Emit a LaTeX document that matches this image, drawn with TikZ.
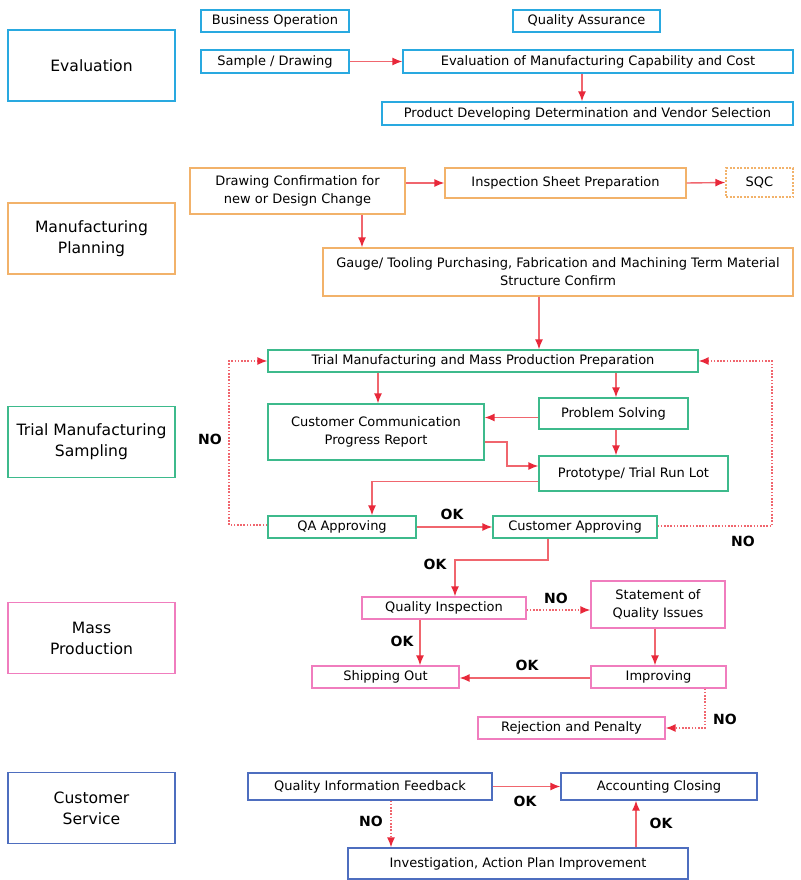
\documentclass[tikz,border=0pt]{standalone}
\usepackage{fontspec}
\setmainfont{DejaVu Sans}
\usetikzlibrary{arrows.meta}
\definecolor{cblue}{HTML}{29A9E0}
\definecolor{corange}{HTML}{F2B26A}
\definecolor{cgreen}{HTML}{3DBA8C}
\definecolor{cpink}{HTML}{F07DBE}
\definecolor{cnavy}{HTML}{4E6EBF}
\definecolor{cline}{HTML}{F0666E}
\definecolor{chead}{HTML}{E8283A}
\tikzset{
 bx/.style={draw=#1, line width=1.3pt, inner sep=0pt, align=center, font=\fontsize{13}{18}\selectfont, text=black},
 cat/.style={draw=#1, line width=1.3pt, minimum width=167pt, minimum height=71pt, inner sep=0pt, align=center, font=\fontsize{15.6}{21}\selectfont},
 arr/.style={draw=cline, line width=1.4pt, -{Latex[length=10pt,width=8pt,color=chead]}},
 darr/.style={arr, dash pattern=on 1.6pt off 1.6pt},
 lbl/.style={font=\bfseries\fontsize{14}{16}\selectfont, inner sep=0pt},
}
\begin{document}
\begin{tikzpicture}[x=1pt,y=-1pt]
\useasboundingbox[fill=white] (0,0) rectangle (800,880);
% categories
\node[cat=cblue] (c1) at (91.5,65.5) {Evaluation};
\node[cat=corange] (c2) at (91.5,238.5) {Manufacturing\\Planning};
\node[cat=cgreen] (c3) at (91.5,442) {Trial Manufacturing\\Sampling};
\node[cat=cpink] (c4) at (91.5,638) {Mass\\Production};
\node[cat=cnavy] (c5) at (91.5,808) {Customer\\Service};
% evaluation
\node[bx=cblue, minimum width=148pt, minimum height=22pt] (bo) at (275,21) {Business Operation};
\node[bx=cblue, minimum width=147pt, minimum height=22pt] (qa) at (586.5,21) {Quality Assurance};
\node[bx=cblue, minimum width=148pt, minimum height=23pt] (sd) at (275,61.5) {Sample / Drawing};
\node[bx=cblue, minimum width=390pt, minimum height=23pt] (emc) at (598,61.5) {Evaluation of Manufacturing Capability and Cost};
\node[bx=cblue, minimum width=411pt, minimum height=23pt] (pdd) at (587.5,113.5) {Product Developing Determination and Vendor Selection};
% planning
\node[bx=corange, minimum width=215pt, minimum height=46pt] (dc) at (297.5,191) {Drawing Confirmation for\\new or Design Change};
\node[bx=corange, minimum width=241pt, minimum height=30pt] (isp) at (565.5,183) {Inspection Sheet Preparation};
\node[bx=corange, dash pattern=on 2pt off 1.5pt, minimum width=67pt, minimum height=29pt] (sqc) at (759.5,182.5) {SQC};
\node[bx=corange, minimum width=470pt, minimum height=48pt] (gt) at (558,272) {Gauge/ Tooling Purchasing, Fabrication and Machining Term Material\\Structure Confirm};
% trial
\node[bx=cgreen, minimum width=430pt, minimum height=22pt] (tm) at (483,361) {Trial Manufacturing and Mass Production Preparation};
\node[bx=cgreen, minimum width=216pt, minimum height=56pt] (cc) at (376,432) {Customer Communication\\Progress Report};
\node[bx=cgreen, minimum width=149pt, minimum height=31pt] (ps) at (613.5,413.5) {Problem Solving};
\node[bx=cgreen, minimum width=189pt, minimum height=35pt] (pt) at (633.5,473.5) {Prototype/ Trial Run Lot};
\node[bx=cgreen, minimum width=148pt, minimum height=22pt] (qaa) at (342,527) {QA Approving};
\node[bx=cgreen, minimum width=164pt, minimum height=22pt] (ca) at (575,527) {Customer Approving};
% mass production
\node[bx=cpink, minimum width=164pt, minimum height=22pt] (qi) at (444,608) {Quality Inspection};
\node[bx=cpink, minimum width=134pt, minimum height=47pt] (sq) at (658,604.5) {Statement of\\Quality Issues};
\node[bx=cpink, minimum width=147pt, minimum height=22pt] (so) at (385.5,677) {Shipping Out};
\node[bx=cpink, minimum width=135pt, minimum height=22pt] (im) at (658.5,677) {Improving};
\node[bx=cpink, minimum width=187pt, minimum height=22pt] (rp) at (571.5,728) {Rejection and Penalty};
% customer service
\node[bx=cnavy, minimum width=244pt, minimum height=27pt] (qif) at (370,786.5) {Quality Information Feedback};
\node[bx=cnavy, minimum width=196pt, minimum height=27pt] (ac) at (659,786.5) {Accounting Closing};
\node[bx=cnavy, minimum width=340pt, minimum height=31pt] (inv) at (518,863.5) {Investigation, Action Plan Improvement};
% connectors
\draw[arr] (sd.east) -- (emc.west);
\draw[arr] (582,0 |- emc.south) -- (582,0 |- pdd.north);
\draw[arr] (dc.east |- isp.west) -- (isp.west);
\draw[arr] (isp.east) -- (sqc.west);
\draw[arr] (362,0 |- dc.south) -- (362,0 |- gt.north);
\draw[arr] (539,0 |- gt.south) -- (539,0 |- tm.north);
\draw[arr] (378,0 |- tm.south) -- (378,0 |- cc.north);
\draw[arr] (616,0 |- tm.south) -- (616,0 |- ps.north);
\draw[arr] ([yshift=-4pt]ps.west) -- ([yshift=-4pt]ps.west -| cc.east);
\draw[arr] (616,0 |- ps.south) -- (616,0 |- pt.north);
\draw[arr] ([yshift=-10pt]cc.east) -- (507,442) |- ([yshift=7.5pt]pt.west);
\draw[arr] ([yshift=-8pt]pt.west) -| (372,0 |- qaa.north);
\draw[arr] (qaa.east) -- (ca.west);
\draw[darr] ([yshift=2pt]qaa.west) -| (229,0 |- tm.west) -- (tm.west);
\draw[darr] ([yshift=1pt]ca.east) -| (772,0 |- tm.east) -- (tm.east);
\draw[arr] (548,0 |- ca.south) -- (548,560) -| (455,0 |- qi.north);
\draw[darr] ([yshift=-2pt]qi.east) -- ([yshift=-2pt]qi.east -| sq.west);
\draw[arr] (420,0 |- qi.south) -- (420,0 |- so.north);
\draw[arr] (655,0 |- sq.south) -- (655,0 |- im.north);
\draw[arr] ([yshift=-1pt]im.west) -- ([yshift=-1pt]so.east);
\draw[darr] (705,0 |- im.south) |- (rp.east);
\draw[arr] (qif.east) -- (ac.west);
\draw[darr] (391,0 |- qif.south) -- (391,0 |- inv.north);
\draw[arr] (636,0 |- inv.north) -- (636,0 |- ac.south);
% labels
\node[lbl] (n1) at (210,439) {NO};
\node[lbl] (n2) at (743,541) {NO};
\node[lbl] (k1) at (452,514) {OK};
\node[lbl] (k2) at (435,564) {OK};
\node[lbl] (n3) at (556,598) {NO};
\node[lbl] (k3) at (402,641) {OK};
\node[lbl] (k4) at (527,665) {OK};
\node[lbl] (n4) at (725,719) {NO};
\node[lbl] (k5) at (525,801) {OK};
\node[lbl] (n5) at (371,821) {NO};
\node[lbl] (k6) at (661,823) {OK};
\end{tikzpicture}
\end{document}
